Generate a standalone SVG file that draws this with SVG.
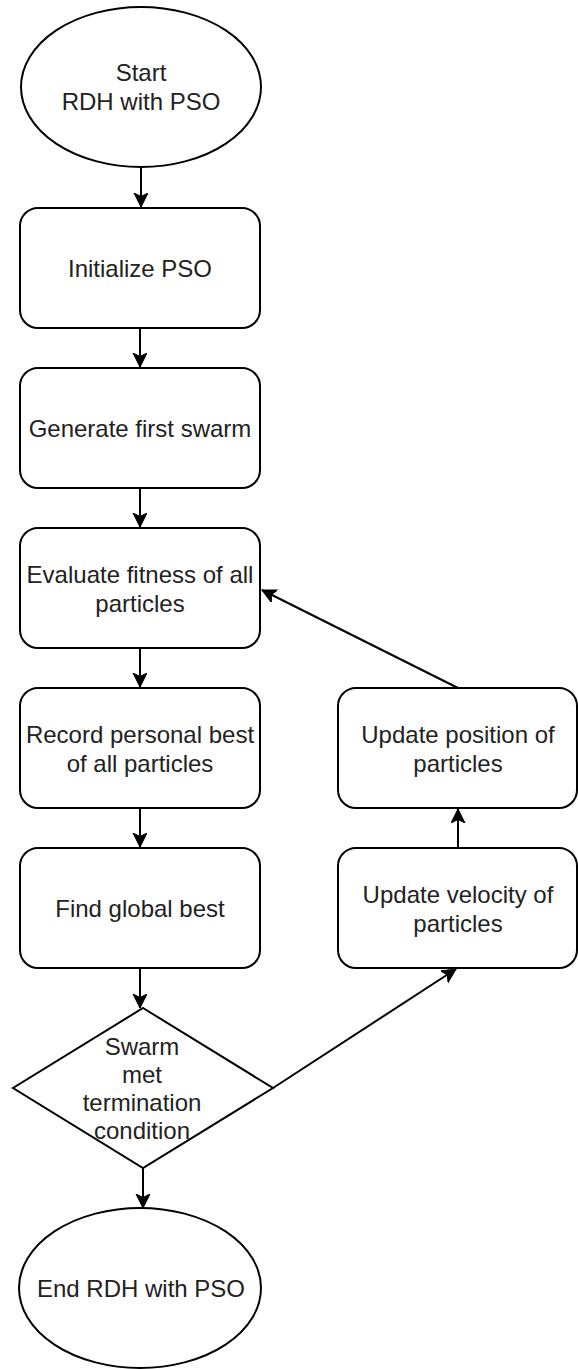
<svg xmlns="http://www.w3.org/2000/svg" width="578" height="1369" viewBox="0 0 578 1369">
<style>
.shape{fill:#ffffff;stroke:#000000;stroke-width:2}
.edge{fill:none;stroke:#000000;stroke-width:2}
.lbl{font-family:"Liberation Sans",Arial,sans-serif;font-size:24px;fill:#222222;text-anchor:middle}
</style>
<defs>
<marker id="arr" markerUnits="userSpaceOnUse" markerWidth="16" markerHeight="16" refX="14" refY="7" orient="auto">
<path d="M0,0 L14,7 L0,14 L3.5,7 Z" fill="#000000" stroke="#000000" stroke-width="1"/>
</marker>
</defs>
<rect width="578" height="1369" fill="#ffffff"/>
<g id="connectors">
<line class="edge" x1="141" y1="167" x2="141" y2="207" marker-end="url(#arr)"/>
<line class="edge" x1="140" y1="328" x2="140" y2="367" marker-end="url(#arr)"/>
<line class="edge" x1="140" y1="488" x2="140" y2="527" marker-end="url(#arr)"/>
<line class="edge" x1="140" y1="648" x2="140" y2="687" marker-end="url(#arr)"/>
<line class="edge" x1="140" y1="808" x2="140" y2="847" marker-end="url(#arr)"/>
<line class="edge" x1="140" y1="968" x2="140" y2="1008" marker-end="url(#arr)"/>
<line class="edge" x1="143" y1="1168" x2="143" y2="1208" marker-end="url(#arr)"/>
<line class="edge" x1="273" y1="1088" x2="456" y2="969" marker-end="url(#arr)"/>
<line class="edge" x1="458" y1="848" x2="458" y2="809" marker-end="url(#arr)"/>
<line class="edge" x1="458" y1="688" x2="262" y2="590" marker-end="url(#arr)"/>
</g>
<g id="start">
<ellipse class="shape" cx="141" cy="87" rx="120" ry="80"/>
<text class="lbl" x="141" y="81">Start</text>
<text class="lbl" x="141" y="110">RDH with PSO</text>
</g>
<g id="init">
<rect class="shape" x="20" y="208" width="240" height="120" rx="18" ry="18"/>
<text class="lbl" x="140" y="276.5">Initialize PSO</text>
</g>
<g id="generate">
<rect class="shape" x="20" y="368" width="240" height="120" rx="18" ry="18"/>
<text class="lbl" x="140" y="436.5">Generate first swarm</text>
</g>
<g id="evaluate">
<rect class="shape" x="20" y="528" width="240" height="120" rx="18" ry="18"/>
<text class="lbl" x="140" y="583">Evaluate fitness of all</text>
<text class="lbl" x="140" y="612">particles</text>
</g>
<g id="record">
<rect class="shape" x="20" y="688" width="240" height="120" rx="18" ry="18"/>
<text class="lbl" x="140" y="743">Record personal best</text>
<text class="lbl" x="140" y="772">of all particles</text>
</g>
<g id="global">
<rect class="shape" x="20" y="848" width="240" height="120" rx="18" ry="18"/>
<text class="lbl" x="140" y="916.5">Find global best</text>
</g>
<g id="decision">
<polygon class="shape" points="143,1008 273,1088 143,1168 13,1088"/>
<text class="lbl" x="142" y="1055">Swarm</text>
<text class="lbl" x="142" y="1083">met</text>
<text class="lbl" x="142" y="1111">termination</text>
<text class="lbl" x="142" y="1139">condition</text>
</g>
<g id="end">
<ellipse class="shape" cx="140" cy="1288" rx="121" ry="80"/>
<text class="lbl" x="141" y="1297">End RDH with PSO</text>
</g>
<g id="velocity">
<rect class="shape" x="338" y="848" width="239" height="120" rx="18" ry="18"/>
<text class="lbl" x="458" y="903">Update velocity of</text>
<text class="lbl" x="458" y="932">particles</text>
</g>
<g id="position">
<rect class="shape" x="338" y="688" width="239" height="120" rx="18" ry="18"/>
<text class="lbl" x="458" y="743">Update position of</text>
<text class="lbl" x="458" y="772">particles</text>
</g>
</svg>
